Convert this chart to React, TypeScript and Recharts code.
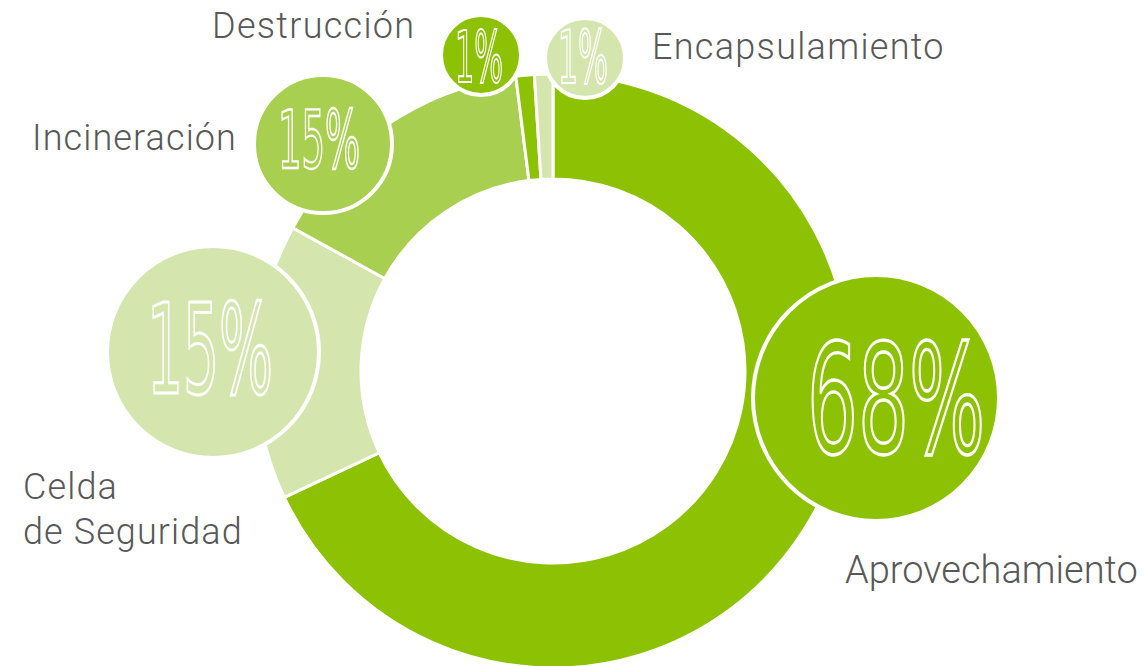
import React from 'react';
import { PieChart, Pie, Cell } from 'recharts';

const CATEGORIES = ['Aprovechamiento', 'Celda de Seguridad', 'Incineración', 'Destrucción', 'Encapsulamiento'];
const VALUES = [68, 15, 15, 1, 1];
const PERCENT_LABELS = ['68%', '15%', '15%', '1%', '1%'];
const NAME_LINES = [['Aprovechamiento'], ['Celda', 'de Seguridad'], ['Incineración'], ['Destrucción'], ['Encapsulamiento']];

const COLORS = {
  dark: '#8DC103',
  mid: '#A8CF4F',
  light: '#D4E6AE',
  text: '#585858',
};
const SLICE_COLORS = [COLORS.dark, COLORS.light, COLORS.mid, COLORS.dark, COLORS.light];

// bubble / label placement, offsets from the pie centre
const LAYOUT = [
  { bx: 323, by: 27, r: 123, tx: 20, ty: 55, cap: 111, tw: 178, sw: 3.4, nx: 292, ny: 212, size: 38, ls: 0 },
  { bx: -340, by: -19, r: 106, tx: -3, ty: 41, cap: 91, tw: 126, sw: 3, nx: -530, ny: 128, size: 36, ls: 1.1 },
  { bx: -230, by: -227, r: 69, tx: -4, ty: 24, cap: 58, tw: 82, sw: 2.4, nx: -521, ny: -221, size: 36, ls: 1.1 },
  { bx: -72, by: -316, r: 40, tx: -2, ty: 27, cap: 52, tw: 48, sw: 2.2, nx: -341, ny: -333, size: 36, ls: 1.3 },
  { bx: 32, by: -313, r: 40, tx: -2, ty: 25, cap: 53, tw: 50, sw: 2.2, nx: 99, ny: -312, size: 36, ls: 1.3 },
];

const data = CATEGORIES.map((name, i) => ({ name, value: VALUES[i] }));

const renderBubble = (props: any) => {
  const { cx, cy, index } = props;
  const l = LAYOUT[index];
  const color = SLICE_COLORS[index];
  const bx = cx + l.bx;
  const by = cy + l.by;
  return (
    <g>
      <circle cx={bx} cy={by} r={l.r} fill={color} stroke="#fff" strokeWidth={4} />
      <text
        x={bx + l.tx}
        y={by + l.ty}
        textAnchor="middle"
        fontFamily="'Liberation Sans Narrow', 'DejaVu Sans Condensed', sans-serif"
        fontSize={l.cap / 0.729}
        textLength={l.tw}
        lengthAdjust="spacingAndGlyphs"
        fill={color}
        stroke="#fff"
        strokeWidth={l.sw}
      >
        {PERCENT_LABELS[index]}
      </text>
      {NAME_LINES[index].map((line, j) => (
        <text
          key={line}
          x={cx + l.nx}
          y={cy + l.ny + j * 45}
          fontFamily="Roboto, sans-serif"
          fontWeight={300}
          fontSize={l.size}
          letterSpacing={l.ls}
          fill={COLORS.text}
        >
          {line}
        </text>
      ))}
    </g>
  );
};

export default function App() {
  return (
    <div style={{ position: 'absolute', left: 0, top: 0, background: '#fff' }}>
      <PieChart width={1144} height={666} margin={{ top: 0, right: 0, bottom: 0, left: 0 }}>
        <Pie
          data={data}
          dataKey="value"
          nameKey="name"
          cx={553}
          cy={371}
          innerRadius={192}
          outerRadius={297}
          startAngle={90}
          endAngle={-270}
          stroke="#fff"
          strokeWidth={3}
          label={renderBubble}
          labelLine={false}
          isAnimationActive={false}
        >
          {data.map((d, i) => (
            <Cell key={d.name} fill={SLICE_COLORS[i]} />
          ))}
        </Pie>
      </PieChart>
    </div>
  );
}
